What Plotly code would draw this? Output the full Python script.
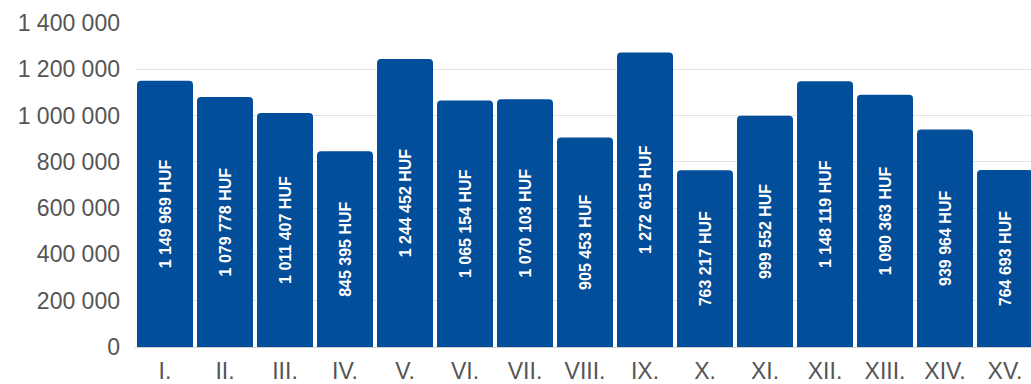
import plotly.graph_objects as go

categories = ["I.", "II.", "III.", "IV.", "V.", "VI.", "VII.", "VIII.", "IX.", "X.",
              "XI.", "XII.", "XIII.", "XIV.", "XV."]
values = [1149969, 1079778, 1011407, 845395, 1244452, 1065154, 1070103, 905453,
          1272615, 763217, 999552, 1148119, 1090363, 939964, 764693]
tick_values = [0, 200000, 400000, 600000, 800000, 1000000, 1200000, 1400000]

FONT = "Liberation Sans, Arial, Helvetica, sans-serif"

fig = go.Figure(
    go.Bar(
        x=categories,
        y=values,
        marker=dict(color="#024e9b", line=dict(width=0)),
        texttemplate="%{y:,d} HUF",
        textposition="inside",
        insidetextanchor="middle",
        textangle=-90,
        constraintext="none",
        insidetextfont=dict(family=FONT, size=16, color="white", weight="bold"),
        hoverinfo="skip",
    )
)

fig.update_layout(
    width=1031,
    height=384,
    margin=dict(l=135, r=0, t=23, b=32),
    paper_bgcolor="white",
    plot_bgcolor="white",
    separators=", ",
    bargap=0.067,
    barcornerradius=4,
    showlegend=False,
    font=dict(family=FONT, color="#555555"),
    xaxis=dict(
        range=[-0.5, 14.433],
        showgrid=False,
        showline=True,
        linecolor="#d0d0d0",
        linewidth=1,
        ticks="",
        tickfont=dict(size=23, color="#555555"),
        ticklabelstandoff=3,
    ),
    yaxis=dict(
        range=[0, 1400000],
        tickvals=tick_values,
        tickformat=",d",
        showgrid=True,
        gridcolor="#e3e3e3",
        gridwidth=1,
        zeroline=False,
        showline=False,
        ticks="",
        tickfont=dict(size=23, color="#555555"),
        ticklabelstandoff=14,
    ),
)

fig.write_html("out.html")
